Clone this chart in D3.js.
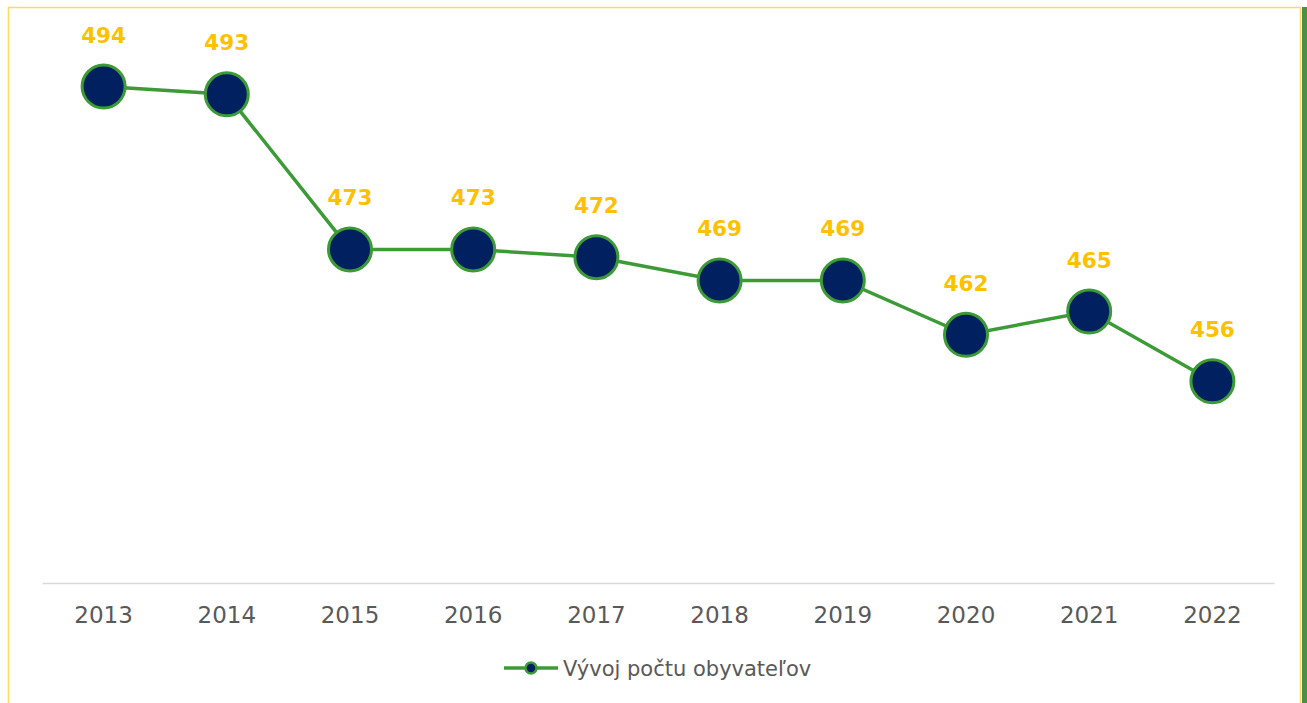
<!DOCTYPE html>
<html>
<head>
<meta charset="utf-8">
<script src="https://cdn.jsdelivr.net/npm/d3@7"></script>
<style>
html,body{margin:0;padding:0;background:#fff;}
svg{display:block;}
</style>
</head>
<body>
<svg id="chart" width="1307" height="703"></svg>
<script>
const years = ["2013","2014","2015","2016","2017","2018","2019","2020","2021","2022"];
const population = [494, 493, 473, 473, 472, 469, 469, 462, 465, 456];
const seriesName = "Vývoj počtu obyvateľov";

const W = 1307, H = 703;
const svg = d3.select("#chart");

// frame
svg.append("rect").attr("x", 8.5).attr("y", 7.5).attr("width", 1292).attr("height", 720)
  .attr("fill", "none").attr("stroke", "#FFD966").attr("stroke-width", 1.5);
svg.append("rect").attr("x", 1302).attr("y", 7).attr("width", 5).attr("height", 700)
  .attr("fill", "#4E8F47");

const x = d3.scaleBand().domain(years).range([42, 1274]);
const y = d3.scaleLinear().domain([430, 500]).range([583, 40]);

// axis
const axisG = svg.append("g").attr("transform", "translate(0,583)")
  .call(d3.axisBottom(x).tickSize(0).tickPadding(24));
axisG.select(".domain").attr("stroke", "#D9D9D9").attr("stroke-width", 1.5);
axisG.selectAll("text").attr("font-family", "DejaVu Sans").attr("font-size", 23)
  .attr("fill", "#595959");

const cx = d => x(d) + x.bandwidth() / 2;
const data = years.map((yr, i) => ({yr, v: population[i]}));

const line = d3.line().x(d => cx(d.yr)).y(d => y(d.v));
svg.append("path").datum(data).attr("d", line).attr("fill", "none")
  .attr("stroke", "#3C9B36").attr("stroke-width", 3.5);

svg.selectAll("circle.pt").data(data).join("circle").attr("class", "pt")
  .attr("cx", d => cx(d.yr)).attr("cy", d => y(d.v)).attr("r", 21.5)
  .attr("fill", "#002060").attr("stroke", "#3C9B36").attr("stroke-width", 3);

svg.selectAll("text.lbl").data(data).join("text").attr("class", "lbl")
  .attr("x", d => cx(d.yr)).attr("y", d => y(d.v) - 44)
  .attr("text-anchor", "middle").attr("font-family", "DejaVu Sans")
  .attr("font-weight", "bold").attr("font-size", 21.5).attr("fill", "#FFC000")
  .text(d => d.v);

// legend
const lg = svg.append("g");
lg.append("line").attr("x1", 504).attr("x2", 558).attr("y1", 668).attr("y2", 668)
  .attr("stroke", "#3C9B36").attr("stroke-width", 3.5);
lg.append("circle").attr("cx", 531).attr("cy", 668).attr("r", 5.5)
  .attr("fill", "#002060").attr("stroke", "#3C9B36").attr("stroke-width", 2.5);
lg.append("text").attr("x", 563).attr("y", 676).attr("font-family", "DejaVu Sans")
  .attr("font-size", 21).attr("fill", "#595959").text(seriesName);
</script>
</body>
</html>
